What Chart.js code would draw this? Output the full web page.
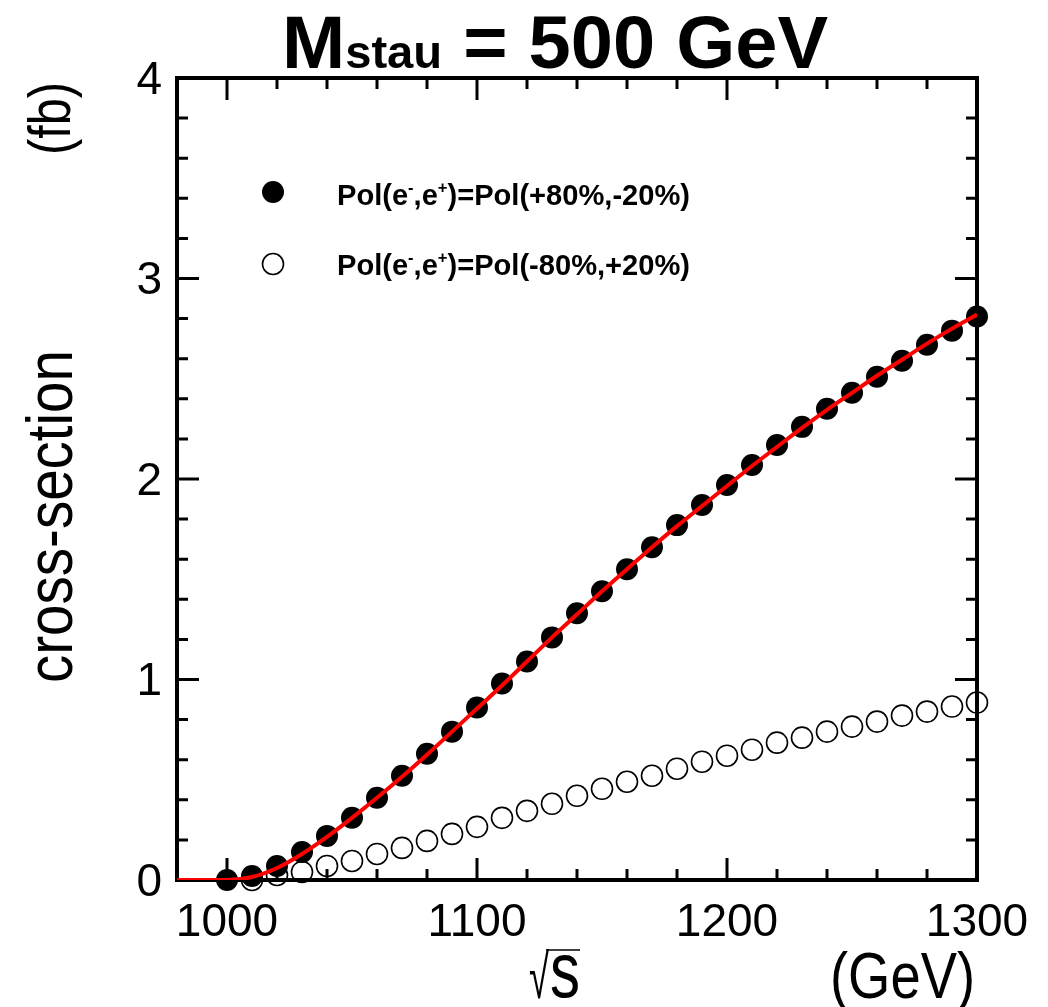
<!DOCTYPE html>
<html>
<head>
<meta charset="utf-8">
<title>Mstau = 500 GeV</title>
<script src="https://cdn.jsdelivr.net/npm/chart.js@4/dist/chart.umd.min.js"></script>
<style>
    body { margin: 0; background: #fff; }
    #chart { display: block; }
</style>
</head>
<body>
<canvas id="chart" width="1048" height="1007"></canvas>
<script>
// sqrt(s) points for the Pol(+80%,-20%) sample
const energiesPlus = [1000, 1010, 1020, 1030, 1040, 1050, 1060, 1070, 1080, 1090, 1100,
    1110, 1120, 1130, 1140, 1150, 1160, 1170, 1180, 1190, 1200,
    1210, 1220, 1230, 1240, 1250, 1260, 1270, 1280, 1290, 1300];
const xsecPlus = [0, 0.02, 0.07, 0.14, 0.22, 0.31, 0.41, 0.52, 0.63, 0.74, 0.86,
    0.98, 1.09, 1.21, 1.33, 1.44, 1.55, 1.66, 1.77, 1.87, 1.97,
    2.07, 2.17, 2.26, 2.35, 2.43, 2.51, 2.59, 2.67, 2.74, 2.81];

// Pol(-80%,+20%) sample
const energiesMinus = [1010, 1020, 1030, 1040, 1050, 1060, 1070, 1080, 1090, 1100,
    1110, 1120, 1130, 1140, 1150, 1160, 1170, 1180, 1190, 1200,
    1210, 1220, 1230, 1240, 1250, 1260, 1270, 1280, 1290, 1300];
const xsecMinus = [0, 0.025, 0.04, 0.07, 0.095, 0.13, 0.16, 0.195, 0.23, 0.265,
    0.31, 0.345, 0.38, 0.42, 0.455, 0.49, 0.52, 0.555, 0.59, 0.62,
    0.65, 0.685, 0.71, 0.74, 0.765, 0.79, 0.82, 0.84, 0.865, 0.885];

// red fit curve
const fitEnergies = [980, 990, 1000, 1010, 1020, 1030, 1040, 1050, 1060, 1070, 1080,
    1090, 1100, 1110, 1120, 1130, 1140, 1150, 1160, 1170, 1180,
    1190, 1200, 1210, 1220, 1230, 1240, 1250, 1260, 1270, 1280, 1290, 1300];
const fitXsec = [0, 0, 0, 0.015, 0.06, 0.13, 0.215, 0.31, 0.41, 0.515, 0.625,
    0.74, 0.855, 0.97, 1.09, 1.21, 1.325, 1.44, 1.55, 1.66, 1.765,
    1.865, 1.965, 2.065, 2.16, 2.255, 2.345, 2.43, 2.515, 2.595, 2.675, 2.75, 2.82];

const xTickLabels = [1000, 1100, 1200, 1300];
const yTickLabels = [0, 1, 2, 3, 4];

const FONT = "'Liberation Sans', Arial, Helvetica, sans-serif";

function toPoints(xs, ys) {
    return xs.map((x, i) => ({ x: x, y: ys[i] }));
}

function isMajorX(v) {
    return xTickLabels.includes(Math.round(v));
}

function isMajorY(v) {
    return Math.abs(v - Math.round(v)) < 1e-6 && yTickLabels.includes(Math.round(v));
}

// draws a list of text pieces on one baseline, squeezed to a given width
function drawRun(ctx, pieces, x, y, width, weight) {
    let total = 0;
    for (let p of pieces) {
        ctx.font = weight + " " + p.size + "px " + FONT;
        p.w = ctx.measureText(p.text).width;
        total += p.w;
    }
    ctx.save();
    ctx.translate(x, y);
    ctx.scale(width / total, 1);
    let cx = 0;
    for (let p of pieces) {
        ctx.font = weight + " " + p.size + "px " + FONT;
        ctx.fillText(p.text, cx, -(p.raise || 0));
        cx += p.w;
    }
    ctx.restore();
}

const framePlugin = {
    id: "frame",
    beforeDatasetsDraw(chart) {
        const ctx = chart.ctx;
        const a = chart.chartArea;
        const x = chart.scales.x;
        const y = chart.scales.y;

        ctx.save();
        ctx.strokeStyle = "#000";
        ctx.lineWidth = 3;
        ctx.beginPath();
        for (let t of x.ticks) {
            const px = x.getPixelForValue(t.value);
            const len = isMajorX(t.value) ? 22 : 11;
            ctx.moveTo(px, a.bottom);
            ctx.lineTo(px, a.bottom - len);
            ctx.moveTo(px, a.top);
            ctx.lineTo(px, a.top + len);
        }
        for (let t of y.ticks) {
            const py = y.getPixelForValue(t.value);
            const len = isMajorY(t.value) ? 22 : 11;
            ctx.moveTo(a.left, py);
            ctx.lineTo(a.left + len, py);
            ctx.moveTo(a.right, py);
            ctx.lineTo(a.right - len, py);
        }
        ctx.stroke();

        ctx.lineWidth = 4;
        ctx.strokeRect(a.left, a.top, a.width, a.height);
        ctx.restore();
    },
    afterDraw(chart) {
        const ctx = chart.ctx;
        ctx.save();
        ctx.fillStyle = "#000";
        ctx.textBaseline = "alphabetic";
        ctx.textAlign = "left";

        // title
        drawRun(ctx, [
            { text: "M", size: 74 },
            { text: "stau", size: 46 },
            { text: " = 500 GeV", size: 74 }
        ], 282, 68, 546, "bold");

        // legend
        ctx.beginPath();
        ctx.arc(273, 192, 11, 0, Math.PI * 2);
        ctx.fill();
        ctx.lineWidth = 1.6;
        ctx.beginPath();
        ctx.arc(273, 264, 10.5, 0, Math.PI * 2);
        ctx.stroke();

        drawRun(ctx, [
            { text: "Pol(e", size: 30 },
            { text: "-", size: 17, raise: 12 },
            { text: ",e", size: 30 },
            { text: "+", size: 17, raise: 12 },
            { text: ")=Pol(+80%,-20%)", size: 30 }
        ], 337, 205, 353, "bold");
        drawRun(ctx, [
            { text: "Pol(e", size: 30 },
            { text: "-", size: 17, raise: 12 },
            { text: ",e", size: 30 },
            { text: "+", size: 17, raise: 12 },
            { text: ")=Pol(-80%,+20%)", size: 30 }
        ], 337, 275, 353, "bold");

        // y axis title
        ctx.save();
        ctx.translate(72, 683);
        ctx.rotate(-Math.PI / 2);
        drawRun(ctx, [{ text: "cross-section", size: 64 }], 0, 0, 333, "normal");
        ctx.restore();

        ctx.save();
        ctx.translate(70, 155);
        ctx.rotate(-Math.PI / 2);
        drawRun(ctx, [{ text: "(fb)", size: 60 }], 0, 0, 73, "normal");
        ctx.restore();

        // x axis title
        drawRun(ctx, [{ text: "\u221A", size: 62 }], 529, 998, 20, "normal");
        drawRun(ctx, [{ text: "s", size: 78 }], 550, 997, 30, "normal");
        ctx.lineWidth = 1.5;
        ctx.beginPath();
        ctx.moveTo(546, 950);
        ctx.lineTo(580, 950);
        ctx.stroke();

        drawRun(ctx, [{ text: "(GeV)", size: 64 }], 830, 998, 145, "normal");

        ctx.restore();
    }
};

new Chart(document.getElementById("chart"), {
    type: "scatter",
    data: {
        datasets: [{
            label: "fit",
            type: "line",
            data: toPoints(fitEnergies, fitXsec),
            borderColor: "#ff0000",
            borderWidth: 4,
            pointRadius: 0,
            cubicInterpolationMode: "monotone",
            fill: false,
            order: 0
        }, {
            label: "Pol(+80%,-20%)",
            data: toPoints(energiesPlus, xsecPlus),
            backgroundColor: "#000",
            borderColor: "#000",
            pointRadius: 11,
            pointBorderWidth: 0,
            clip: false,
            order: 1
        }, {
            label: "Pol(-80%,+20%)",
            data: toPoints(energiesMinus, xsecMinus),
            backgroundColor: "rgba(0,0,0,0)",
            borderColor: "#000",
            pointRadius: 10.5,
            pointBorderWidth: 1.6,
            clip: false,
            order: 2
        }]
    },
    options: {
        responsive: false,
        animation: false,
        events: [],
        layout: {
            padding: { left: 0, right: 71, top: 78, bottom: 0 }
        },
        plugins: {
            legend: { display: false },
            tooltip: { enabled: false }
        },
        scales: {
            x: {
                type: "linear",
                min: 980,
                max: 1300,
                grid: { display: false, drawTicks: false },
                border: { display: false },
                ticks: {
                    stepSize: 20,
                    autoSkip: false,
                    maxRotation: 0,
                    padding: 16,
                    color: "#000",
                    font: { family: FONT, size: 46 },
                    callback: (v) => isMajorX(v) ? String(Math.round(v)) : ""
                },
                afterFit: (s) => { s.height = 127; }
            },
            y: {
                min: 0,
                max: 4,
                grid: { display: false, drawTicks: false },
                border: { display: false },
                ticks: {
                    stepSize: 0.2,
                    autoSkip: false,
                    padding: 15,
                    labelOffset: 3,
                    color: "#000",
                    font: { family: FONT, size: 46 },
                    callback: (v) => isMajorY(v) ? String(Math.round(v)) : ""
                },
                afterFit: (s) => { s.width = 177; }
            }
        }
    },
    plugins: [framePlugin]
});
</script>
</body>
</html>
